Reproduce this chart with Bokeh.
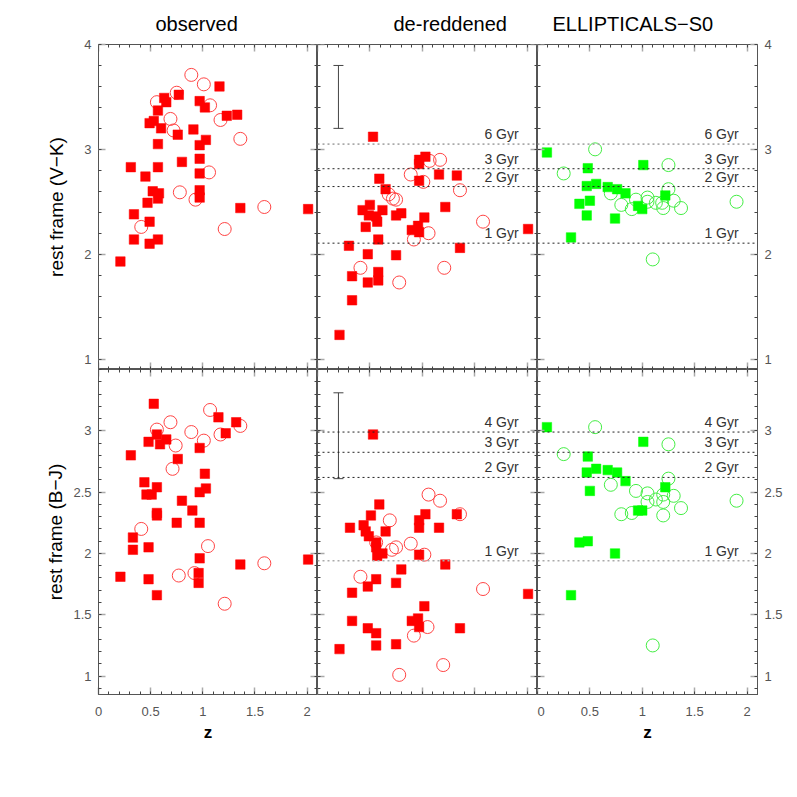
from bokeh.plotting import figure
from bokeh.layouts import column, row
from bokeh.models import Range1d, LinearAxis, FixedTicker, Span, Whisker, ColumnDataSource, TeeHead
from bokeh.embed import file_html
from bokeh.resources import INLINE
from bokeh.core.properties import value

# ---------------- data ----------------
# observed, V-K
obs_vk_sq_z = [1.16,0.63,0.77,0.65,0.97,1.02,0.57,0.49,0.53,0.60,0.76,0.91,1.23,1.33,1.03,0.97,0.57,0.97,0.80,0.31,
               0.57,0.97,0.45,0.52,0.58,0.57,0.97,0.97,0.47,1.36,2.01,0.34,0.49,0.34,0.49,0.57,0.21]
obs_vk_sq_c = [3.60,3.49,3.52,3.45,3.46,3.40,3.37,3.25,3.27,3.20,3.14,3.19,3.32,3.33,3.09,3.04,3.05,2.91,2.88,2.83,
               2.83,2.77,2.74,2.60,2.58,2.53,2.61,2.54,2.49,2.44,2.43,2.38,2.31,2.14,2.10,2.14,1.93]
obs_vk_op_z = [0.89,1.01,0.75,0.56,1.07,0.69,1.17,0.72,1.36,1.06,0.78,0.93,1.59,0.41,1.21]
obs_vk_op_c = [3.71,3.62,3.54,3.45,3.42,3.29,3.28,3.18,3.10,2.78,2.59,2.52,2.45,2.26,2.24]
# de-reddened, V-K
der_vk_sq_z = [0.53,0.97,1.03,0.97,1.16,1.33,0.97,0.59,0.65,1.22,0.50,0.43,0.62,0.49,0.56,0.57,0.75,0.80,1.02,0.46,
               0.96,0.90,0.97,2.01,0.58,0.30,0.48,0.75,1.36,0.33,0.58,0.58,0.48,0.33,0.21]
der_vk_sq_c = [3.12,2.90,2.93,2.86,2.76,2.75,2.70,2.72,2.62,2.45,2.47,2.42,2.42,2.37,2.36,2.31,2.37,2.39,2.35,2.26,
               2.27,2.23,2.21,2.24,2.14,2.08,2.00,1.99,2.06,1.79,1.83,1.75,1.73,1.56,1.23]
der_vk_op_z = [1.07,1.17,0.89,1.01,1.36,0.68,0.72,0.75,1.58,1.06,0.92,0.41,1.21,0.78]
der_vk_op_c = [2.89,2.90,2.76,2.69,2.61,2.57,2.53,2.52,2.31,2.20,2.14,1.87,1.87,1.73]
# ellipticals-S0, V-K
ell_vk_sq_z = [0.09,0.48,1.01,0.47,0.56,0.67,0.76,0.84,1.22,0.40,0.50,0.96,1.00,0.47,0.74,0.32]
ell_vk_sq_c = [2.97,2.82,2.85,2.65,2.67,2.64,2.62,2.58,2.56,2.48,2.51,2.46,2.43,2.37,2.34,2.16]
ell_vk_op_z = [0.55,0.25,1.25,1.25,0.70,0.94,1.05,1.05,0.80,0.90,1.13,1.19,1.20,1.30,1.37,1.90,1.10]
ell_vk_op_c = [3.00,2.77,2.85,2.62,2.58,2.52,2.54,2.50,2.47,2.43,2.49,2.49,2.44,2.51,2.44,2.50,1.95]
# observed, B-J
obs_bj_sq_z = [0.53,1.15,1.32,1.22,0.56,0.65,0.48,0.59,0.97,0.31,0.76,1.02,0.44,0.56,1.03,0.97,0.46,0.51,0.80,0.90,
               0.56,0.56,0.75,0.97,0.33,0.33,0.48,0.97,1.36,2.01,0.96,0.96,0.21,0.48,0.56]
obs_bj_sq_c = [3.22,3.11,3.07,2.98,2.97,2.93,2.91,2.89,2.86,2.80,2.77,2.65,2.58,2.54,2.53,2.50,2.48,2.48,2.43,2.35,
               2.33,2.31,2.25,2.25,2.13,2.03,2.05,1.96,1.91,1.95,1.84,1.76,1.81,1.79,1.66]
obs_bj_op_z = [1.07,0.69,0.56,0.89,1.36,1.17,1.01,0.74,0.71,0.41,1.05,1.59,0.77,0.92,1.21]
obs_bj_op_c = [3.17,3.07,3.01,2.99,3.04,2.97,2.92,2.88,2.69,2.20,2.06,1.92,1.82,1.84,1.59]
# de-reddened, B-J
der_bj_sq_z = [0.53,0.59,0.51,1.03,1.33,0.97,0.97,1.16,0.31,0.44,0.46,0.65,0.49,0.56,0.56,0.62,0.57,0.97,1.22,0.80,
               0.56,0.75,0.48,0.33,2.01,1.02,0.96,0.90,0.97,0.33,0.48,0.56,1.36,0.56,0.75,0.21]
der_bj_sq_c = [2.97,2.40,2.31,2.32,2.32,2.27,2.21,2.21,2.21,2.23,2.18,2.18,2.14,2.09,2.05,2.00,1.98,1.99,1.91,1.87,
               1.79,1.76,1.73,1.68,1.67,1.57,1.47,1.45,1.40,1.45,1.39,1.35,1.39,1.25,1.26,1.22]
der_bj_op_z = [1.06,1.17,1.36,0.69,0.56,0.71,0.75,0.89,1.02,0.41,1.58,1.05,0.92,1.20,0.78]
der_bj_op_c = [2.48,2.43,2.32,2.27,2.09,2.03,2.05,2.08,1.99,1.81,1.71,1.40,1.33,1.09,1.01]
# ellipticals-S0, B-J
ell_bj_sq_z = [0.09,1.01,0.48,0.56,0.47,0.67,0.76,0.84,1.22,0.50,0.96,1.00,0.40,0.48,0.74,0.32]
ell_bj_sq_c = [3.03,2.91,2.79,2.69,2.66,2.68,2.66,2.59,2.54,2.51,2.35,2.35,2.09,2.10,2.00,1.66]
ell_bj_op_z = [0.55,1.25,0.25,1.25,0.70,0.94,1.05,1.05,1.20,1.30,1.13,1.20,1.37,0.80,0.90,1.20,1.90,1.10]
ell_bj_op_c = [3.03,2.89,2.81,2.61,2.56,2.51,2.49,2.42,2.48,2.47,2.44,2.42,2.37,2.32,2.33,2.31,2.43,1.25]

# model age lines
vk_age_labels = ["6 Gyr", "3 Gyr", "2 Gyr", "1 Gyr"]
vk_age_colors = [3.05, 2.815, 2.645, 2.105]
vk_age_faint = [True, False, False, False]
bj_age_labels = ["4 Gyr", "3 Gyr", "2 Gyr", "1 Gyr"]
bj_age_colors = [2.99, 2.825, 2.62, 1.94]
bj_age_faint = [False, False, False, True]

# typical error bars
err_z = [0.2]
vk_err_lo, vk_err_hi = [3.2], [3.8]
bj_err_lo, bj_err_hi = [2.61], [3.31]

# ticks
x_major = [0, 0.5, 1, 1.5, 2]
x_minor = [round(0.1 * i, 1) for i in range(0, 22)]
vk_major = [1, 2, 3, 4]
vk_minor = [round(0.2 * i, 1) for i in range(4, 21)]
bj_major = [1, 1.5, 2, 2.5, 3]
bj_minor = [round(0.1 * i, 1) for i in range(8, 36)]
x_labels = {0: "0", 0.5: "0.5", 1: "1", 1.5: "1.5", 2: "2"}
bj_labels = {1: "1", 1.5: "1.5", 2: "2", 2.5: "2.5", 3: "3"}

# ---------------- styling ----------------
FONT = "Liberation Sans"
XR = (0, 2.1)
YR_VK = (0.9, 4.0)
YR_BJ = (0.85, 3.5)
FRAME_H = 325


def add_axis(p, side, major, minor, labels, overrides=None, axis_label=None, bold=False,
             fixed=None, label_standoff=4):
    ax = LinearAxis(ticker=FixedTicker(ticks=major, minor_ticks=minor))
    ax.axis_line_color = "#555555"
    ax.major_tick_in = 7
    ax.major_tick_out = 0
    ax.minor_tick_in = 3
    ax.minor_tick_out = 0
    ax.major_tick_line_color = "#aaaaaa"
    ax.major_tick_line_width = 1.5
    ax.minor_tick_line_color = "#444444"
    if labels:
        ax.major_label_text_font = FONT
        ax.major_label_text_font_size = "13px"
        ax.major_label_text_color = "#555555"
        ax.major_label_standoff = 7 if side in ("left", "right") else 12
        if overrides:
            ax.major_label_overrides = overrides
    else:
        # tick-only axis pinned to the frame edge, takes no border space
        ax.fixed_location = fixed
        ax.major_label_text_color = None
    if axis_label:
        ax.axis_label = axis_label
        ax.axis_label_text_font = FONT
        ax.axis_label_text_font_size = "19px" if not bold else "17px"
        ax.axis_label_text_font_style = "bold" if bold else "normal"
        ax.axis_label_text_color = "#000000"
        ax.axis_label_standoff = label_standoff
    p.add_layout(ax, side)
    return ax


def make_panel(yr, ymajor, yminor, yover, fw, bl, br, bt, bb, title=None, title_off=0,
               left_lab=False, right_lab=False, bottom_lab=False, ylabel=None, ylab_standoff=4):
    p = figure(frame_width=fw, frame_height=FRAME_H, x_range=Range1d(*XR), y_range=Range1d(*yr),
               output_backend="svg", toolbar_location=None,
               x_axis_location=None, y_axis_location=None,
               min_border_left=bl, min_border_right=br, min_border_top=bt, min_border_bottom=bb)
    p.grid.visible = False
    p.outline_line_color = "#555555"
    p.background_fill_color = "white"
    p.border_fill_color = "white"
    add_axis(p, "left", ymajor, yminor, left_lab, yover, ylabel, fixed=XR[0],
             label_standoff=ylab_standoff)
    add_axis(p, "right", ymajor, yminor, right_lab, yover, fixed=XR[1])
    add_axis(p, "above", x_major, x_minor, False, fixed=yr[1])
    add_axis(p, "below", x_major, x_minor, bottom_lab, x_labels, "z" if bottom_lab else None,
             bold=True, fixed=yr[0], label_standoff=4)
    if title:
        p.title.text = title
        p.title.align = "left"
        p.title.offset = title_off
        p.title.text_font = FONT
        p.title.text_font_size = "20px"
        p.title.text_font_style = "normal"
        p.title.text_color = "#000000"
        p.title.standoff = 20
    return p


def add_points(p, sq_z, sq_c, op_z, op_c, color, op_color):
    p.scatter(x=op_z, y=op_c, marker="circle", size=13, fill_color=None,
              line_color=op_color, line_width=1)
    p.scatter(x=sq_z, y=sq_c, marker="square", size=9.5, fill_color=color,
              line_color=color, line_width=0.5)


def add_ages(p, ys, labels, faint):
    for yv, f in zip(ys, faint):
        if f:
            p.add_layout(Span(location=yv, dimension="width", line_color="#aaaaaa",
                              line_dash="2 3", line_width=1.6))
        else:
            p.add_layout(Span(location=yv, dimension="width", line_color="#222222",
                              line_dash="2 3", line_width=1))
    p.text(x=[1.92] * len(ys), y=ys, text=labels, text_align="right", text_baseline="bottom",
           y_offset=-2, text_font=value(FONT), text_font_size="14px", text_color="#333333")


def add_err(p, lo, hi):
    src = ColumnDataSource(dict(x=err_z, lo=lo, hi=hi))
    p.add_layout(Whisker(source=src, base="x", lower="lo", upper="hi", dimension="height",
                         line_color="#444444", line_width=1,
                         upper_head=TeeHead(size=10, line_color="#444444", line_width=1),
                         lower_head=TeeHead(size=10, line_color="#444444", line_width=1)))


RED = "#ff0000"
RED_O = "#ff4444"
GREEN = "#00ff00"
GREEN_O = "#44ee44"

# top row (V-K)
p1 = make_panel(YR_VK, vk_major, vk_minor, None, 219, 98, 0, 44, 0, "observed", 57,
                left_lab=True, ylabel="rest frame (V\u2212K)", ylab_standoff=14)
p2 = make_panel(YR_VK, vk_major, vk_minor, None, 220, 0, 0, 44, 0, "de-reddened", 76)
p3 = make_panel(YR_VK, vk_major, vk_minor, None, 220, 0, 30, 44, 0, "ELLIPTICALS\u2212S0", 15,
                right_lab=True)
# bottom row (B-J)
p4 = make_panel(YR_BJ, bj_major, bj_minor, bj_labels, 219, 98, 0, 0, 60,
                left_lab=True, bottom_lab=True, ylabel="rest frame (B\u2212J)", ylab_standoff=4)
p5 = make_panel(YR_BJ, bj_major, bj_minor, bj_labels, 220, 0, 0, 0, 60)
p6 = make_panel(YR_BJ, bj_major, bj_minor, bj_labels, 220, 0, 30, 0, 60,
                right_lab=True, bottom_lab=True)

add_points(p1, obs_vk_sq_z, obs_vk_sq_c, obs_vk_op_z, obs_vk_op_c, RED, RED_O)
add_ages(p2, vk_age_colors, vk_age_labels, vk_age_faint)
add_err(p2, vk_err_lo, vk_err_hi)
add_points(p2, der_vk_sq_z, der_vk_sq_c, der_vk_op_z, der_vk_op_c, RED, RED_O)
add_ages(p3, vk_age_colors, vk_age_labels, vk_age_faint)
add_points(p3, ell_vk_sq_z, ell_vk_sq_c, ell_vk_op_z, ell_vk_op_c, GREEN, GREEN_O)

add_points(p4, obs_bj_sq_z, obs_bj_sq_c, obs_bj_op_z, obs_bj_op_c, RED, RED_O)
add_ages(p5, bj_age_colors, bj_age_labels, bj_age_faint)
add_err(p5, bj_err_lo, bj_err_hi)
add_points(p5, der_bj_sq_z, der_bj_sq_c, der_bj_op_z, der_bj_op_c, RED, RED_O)
add_ages(p6, bj_age_colors, bj_age_labels, bj_age_faint)
add_points(p6, ell_bj_sq_z, ell_bj_sq_c, ell_bj_op_z, ell_bj_op_c, GREEN, GREEN_O)

layout = column(row(p1, p2, p3, spacing=0), row(p4, p5, p6, spacing=0), spacing=0)

open("out.html", "w").write(file_html(layout, INLINE))
